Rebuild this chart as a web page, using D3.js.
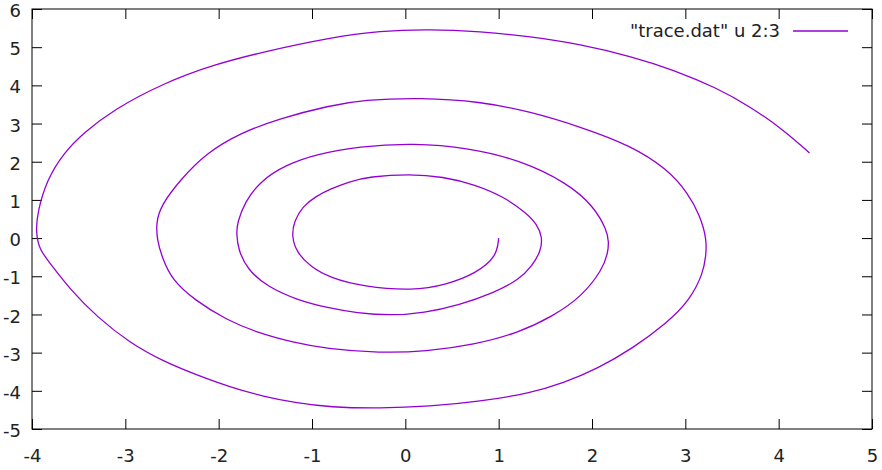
<!DOCTYPE html>
<html>
  <head>
    <meta charset="utf-8">
    <title>trace.dat spiral</title>
    <script src="https://d3js.org/d3.v7.min.js"></script>
    <style>
      body { margin: 0; background: #fff; }
      text { font-family: "DejaVu Sans", sans-serif; }
    </style>
  </head>
  <body>
    <script>
      // points (column 2 = x, column 3 = y)
      const xs = [
        1.00, 0.98, 0.76, 0.44, 0.08, -0.45, -0.81, -1.02, -1.16, -1.22, -1.19, -1.10, -0.96, -0.81,
        -0.60, -0.39, 0.05, 0.40, 0.75, 1.05, 1.30, 1.41, 1.47, 1.45, 1.36, 1.22, 0.94, 0.58, 0.20, -0.16,
        -0.52, -0.83, -1.16, -1.48, -1.69, -1.79, -1.81, -1.80, -1.72, -1.55, -1.28, -0.95, -0.50,
        0.09, 0.68, 1.22, 1.74, 2.02, 2.16, 2.18, 2.17, 2.11, 1.89, 1.58, 1.20, 0.74, 0.22, -0.27,
        -0.85, -1.22, -1.57, -1.92, -2.26, -2.50, -2.60, -2.66, -2.67, -2.62, -2.41, -2.13, -1.77,
        -1.34, -0.81, -0.45, 0.16, 0.80, 1.34, 1.87, 2.42, 2.80, 3.03, 3.16, 3.23, 3.22, 3.19, 3.05,
        2.80, 2.44, 2.06, 1.69, 1.34, 0.80, 0.26, -0.27, -0.81, -1.16, -1.52, -1.88, -2.24, -2.59,
        -2.95, -3.31, -3.59, -3.81, -3.92, -3.96, -3.94, -3.84, -3.66, -3.45, -3.13, -2.59, -2.06,
        -1.52, -0.81, -0.27, 0.26, 0.80, 1.34, 1.87, 2.42, 2.87, 3.34, 3.69, 4.05, 4.33
      ];
      const ys = [
        0.00, -0.48, -0.92, -1.22, -1.38, -1.27, -1.04, -0.74, -0.39, 0.05, 0.45, 0.83, 1.09, 1.28,
        1.48, 1.61, 1.68, 1.61, 1.40, 1.09, 0.65, 0.36, 0.02, -0.35, -0.72, -1.09, -1.44, -1.75, -1.96, -2.03,
        -1.96, -1.83, -1.62, -1.27, -0.83, -0.31, 0.13, 0.40, 0.95, 1.50, 1.92, 2.20, 2.40,
        2.49, 2.36, 2.05, 1.44, 0.83, 0.20, -0.10, -0.40, -0.83, -1.53, -2.05, -2.49, -2.79, -2.97, -3.01,
        -2.90, -2.72, -2.49, -2.14, -1.62, -1.09, -0.55, -0.05, 0.40, 0.85, 1.53, 2.23, 2.75,
        3.14, 3.47, 3.62, 3.68, 3.58, 3.31, 2.92, 2.42, 1.82, 1.18, 0.57, -0.04, -0.48, -0.92, -1.62,
        -2.23, -2.88, -3.42, -3.80, -4.06, -4.28, -4.41, -4.46, -4.43, -4.32, -4.15, -3.90, -3.58, -3.23,
        -2.75, -2.05, -1.35, -0.65, -0.30, 0.15, 0.70, 1.53, 2.23, 2.75, 3.36, 4.06, 4.54,
        4.88, 5.25, 5.43, 5.47, 5.41, 5.28, 5.08, 4.76, 4.41, 3.93, 3.45, 2.84, 2.23
      ];
      const xTicks = [-4, -3, -2, -1, 0, 1, 2, 3, 4, 5];
      const yTicks = [-5, -4, -3, -2, -1, 0, 1, 2, 3, 4, 5, 6];
      const seriesName = '"trace.dat" u 2:3';

      const width = 882, height = 470;
      const margin = { top: 9, right: 10, bottom: 41, left: 32 };
      const lineColor = "#9400d3";

      const svg = d3.select("body").append("svg")
        .attr("width", width)
        .attr("height", height);

      svg.append("rect").attr("width", width).attr("height", height).attr("fill", "#fff");

      const x = d3.scaleLinear()
        .domain([xTicks[0], xTicks[xTicks.length - 1]])
        .range([margin.left, width - margin.right]);
      const y = d3.scaleLinear()
        .domain([yTicks[0], yTicks[yTicks.length - 1]])
        .range([height - margin.bottom, margin.top]);

      // axes, gnuplot style: ticks point inward and are mirrored
      const styleAxis = g => {
        g.select(".domain").remove();
        g.selectAll(".tick line").attr("stroke", "#000");
        g.selectAll(".tick text").attr("fill", "#222").style("font-size", "18px");
      };

      svg.append("g")
        .attr("transform", `translate(0,${height - margin.bottom})`)
        .call(d3.axisBottom(x).tickValues(xTicks).tickSizeInner(-10).tickSizeOuter(0).tickPadding(20).tickFormat(d3.format("d")))
        .call(styleAxis);
      svg.append("g")
        .attr("transform", `translate(0,${margin.top})`)
        .call(d3.axisTop(x).tickValues(xTicks).tickSizeInner(-10).tickSizeOuter(0).tickFormat(""))
        .call(styleAxis);
      svg.append("g")
        .attr("transform", `translate(${margin.left},0)`)
        .call(d3.axisLeft(y).tickValues(yTicks).tickSizeInner(-10).tickSizeOuter(0).tickPadding(11).tickFormat(d3.format("d")))
        .call(styleAxis)
        .call(g => g.selectAll(".tick text").attr("dy", "0.42em"));
      svg.append("g")
        .attr("transform", `translate(${width - margin.right},0)`)
        .call(d3.axisRight(y).tickValues(yTicks).tickSizeInner(-10).tickSizeOuter(0).tickFormat(""))
        .call(styleAxis);

      // the minus sign in gnuplot is a plain hyphen
      svg.selectAll(".tick text").text(function () { return this.textContent.replace("\u2212", "-"); });

      // frame
      svg.append("rect")
        .attr("x", margin.left)
        .attr("y", margin.top)
        .attr("width", width - margin.left - margin.right)
        .attr("height", height - margin.top - margin.bottom)
        .attr("fill", "none")
        .attr("stroke", "#000")
        .attr("stroke-width", 1);

      // spiral trace (basis curve evens out reading noise)
      const pts = xs.map((d, i) => [d, ys[i]]);
      const line = d3.line()
        .x(d => x(d[0]))
        .y(d => y(d[1]))
        .curve(d3.curveBasis);

      svg.append("path")
        .datum(pts)
        .attr("d", line)
        .attr("fill", "none")
        .attr("stroke", lineColor)
        .attr("stroke-width", 1.3);

      // key
      const key = svg.append("g").attr("transform", "translate(0,31)");
      key.append("text")
        .attr("x", 780)
        .attr("y", 6)
        .attr("text-anchor", "end")
        .attr("fill", "#222")
        .style("font-size", "18px")
        .text(seriesName);
      key.append("line")
        .attr("x1", 793).attr("x2", 848)
        .attr("y1", 0).attr("y2", 0)
        .attr("stroke", lineColor)
        .attr("stroke-width", 1.3);
    </script>
  </body>
</html>
